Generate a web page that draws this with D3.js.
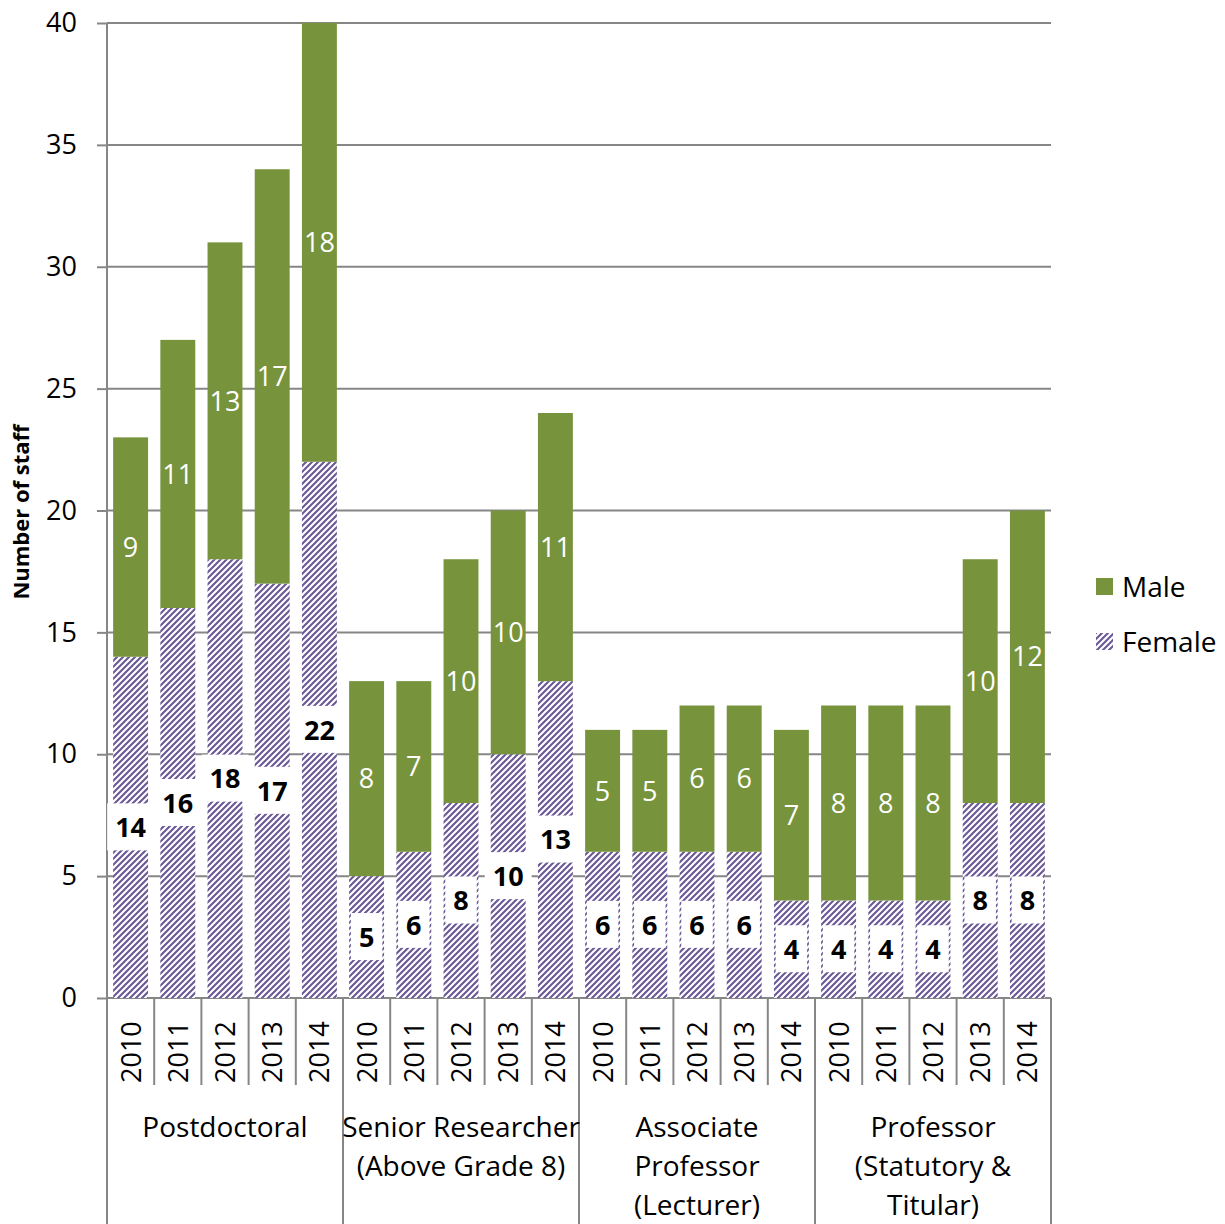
<!DOCTYPE html>
<html>
<head>
<meta charset="utf-8">
<script src="https://cdn.jsdelivr.net/npm/d3@7"></script>
<style>
  html, body { margin: 0; padding: 0; background: #fff; }
  svg { display: block; font-family: "Open Sans", "Noto Sans", sans-serif; }
</style>
</head>
<body>
<div id="chart"></div>
<script>
// Staff counts by role and year
const groups = [
  ["Postdoctoral"],
  ["Senior Researcher", "(Above Grade 8)"],
  ["Associate", "Professor", "(Lecturer)"],
  ["Professor", "(Statutory &", "Titular)"]
];
const years = ["2010", "2011", "2012", "2013", "2014"];
const female = [14, 16, 18, 17, 22,  5, 6, 8, 10, 13,  6, 6, 6, 6, 4,  4, 4, 4, 8, 8];
const male   = [ 9, 11, 13, 17, 18,  8, 7, 10, 10, 11,  5, 5, 6, 6, 7,  8, 8, 8, 10, 12];
const yTicks = [0, 5, 10, 15, 20, 25, 30, 35, 40];
const seriesNames = ["Male", "Female"];

const W = 1225, H = 1224;
const plot = { left: 107, right: 1051, top: 23, bottom: 998 };
const GREEN = "#77933c", PURPLE = "#6a5896", GRID = "#868686";
const FS = 27;       // numbers
const FS_TXT = 28;   // words

const rows = [];
groups.forEach((g, gi) => years.forEach((yr, yi) => {
  const i = gi * years.length + yi;
  rows.push({ key: gi + "-" + yr, year: yr, group: gi, female: female[i], male: male[i] });
}));

const svg = d3.select("#chart").append("svg").attr("width", W).attr("height", H);

// diagonal hatch for the female series
const defs = svg.append("defs");
const pat = defs.append("pattern").attr("id", "hatch")
  .attr("patternUnits", "userSpaceOnUse").attr("width", 6).attr("height", 6);
pat.append("rect").attr("width", 6).attr("height", 6).attr("fill", "#fff");
pat.append("path").attr("d", "M-1,1 l2,-2 M0,6 l6,-6 M5,7 l2,-2")
  .attr("stroke", PURPLE).attr("stroke-width", 2.1);

const x = d3.scaleBand().domain(rows.map(d => d.key))
  .range([plot.left, plot.right]).paddingInner(0.26).paddingOuter(0.13);
const y = d3.scaleLinear().domain([0, 40]).range([plot.bottom, plot.top]);

// gridlines + value axis
const yAxis = d3.axisLeft(y).tickValues(yTicks).tickSize(10).tickPadding(20).tickFormat(d3.format("d"));
const ya = svg.append("g").attr("transform", `translate(${plot.left},0)`).call(yAxis);
ya.select(".domain").remove();
ya.selectAll(".tick line").attr("stroke", GRID).attr("stroke-width", 2);
ya.selectAll(".tick text").attr("font-size", FS).attr("fill", "#000")
  .attr("font-family", "'Open Sans', sans-serif");
svg.append("g").selectAll("line").data(yTicks).join("line")
  .attr("x1", plot.left).attr("x2", plot.right)
  .attr("y1", d => y(d)).attr("y2", d => y(d))
  .attr("stroke", GRID).attr("stroke-width", 2);

// stacked bars
const bars = svg.append("g");
bars.selectAll(".f").data(rows).join("rect")
  .attr("x", d => x(d.key)).attr("width", x.bandwidth())
  .attr("y", d => y(d.female)).attr("height", d => y(0) - y(d.female))
  .attr("fill", "url(#hatch)");
bars.selectAll(".m").data(rows).join("rect")
  .attr("x", d => x(d.key)).attr("width", x.bandwidth())
  .attr("y", d => y(d.female + d.male)).attr("height", d => y(d.female) - y(d.female + d.male))
  .attr("fill", GREEN);

// vertical value axis line
svg.append("line").attr("x1", plot.left).attr("x2", plot.left)
  .attr("y1", plot.top).attr("y2", H).attr("stroke", GRID).attr("stroke-width", 2);

// category axis: year ticks and group separators
const step = x.step();
const edges = d3.range(rows.length + 1).map(i => plot.left + i * step);
svg.append("g").selectAll("line").data(edges).join("line")
  .attr("x1", d => d).attr("x2", d => d)
  .attr("y1", plot.bottom)
  .attr("y2", (d, i) => i % years.length === 0 ? H : 1085)
  .attr("stroke", GRID).attr("stroke-width", 2);

svg.append("g").selectAll("text").data(rows).join("text")
  .attr("transform", d => `translate(${x(d.key) + x.bandwidth() / 2 + 10},1083) rotate(-90)`)
  .attr("font-size", FS).attr("fill", "#000").text(d => d.year);

const groupText = svg.append("g").selectAll("text").data(groups).join("text")
  .attr("text-anchor", "middle").attr("font-size", FS_TXT).attr("fill", "#000")
  .attr("x", (g, gi) => plot.left + (gi * years.length + years.length / 2) * step);
groupText.selectAll("tspan").data(g => g).join("tspan")
  .attr("x", function () { return d3.select(this.parentNode).attr("x"); })
  .attr("y", (d, i) => 1137 + i * 39).text(d => d);

// male labels
svg.append("g").selectAll("text").data(rows).join("text")
  .attr("x", d => x(d.key) + x.bandwidth() / 2)
  .attr("y", d => y(d.female + d.male / 2)).attr("dy", "0.36em")
  .attr("text-anchor", "middle").attr("font-size", FS).attr("fill", "#fff")
  .text(d => d.male);

// female labels on white boxes
const fl = svg.append("g").selectAll("g").data(rows).join("g")
  .attr("transform", d => `translate(${x(d.key) + x.bandwidth() / 2},${y(d.female / 2)})`);
fl.append("rect").attr("fill", "#fff");
const flText = fl.append("text").attr("text-anchor", "middle").attr("dy", "0.36em")
  .attr("font-size", FS).attr("font-weight", "bold").attr("fill", "#000")
  .text(d => d.female);
flText.each(function () {
  const b = this.getBBox();
  d3.select(this.previousSibling)
    .attr("x", -b.width / 2 - 8).attr("width", b.width + 16)
    .attr("y", -24).attr("height", 47);
});

// value axis title
svg.append("text").attr("transform", "translate(29,512) rotate(-90)")
  .attr("text-anchor", "middle").attr("font-size", 22).attr("font-weight", "bold")
  .text("Number of staff");

// legend
const lg = svg.append("g").selectAll("g").data(seriesNames).join("g")
  .attr("transform", (d, i) => `translate(1096,${578 + i * 55})`);
lg.append("rect").attr("width", 17).attr("height", 17)
  .attr("fill", d => d === "Male" ? GREEN : "url(#hatch)");
lg.append("text").attr("x", 26).attr("y", 9).attr("dy", "0.36em")
  .attr("font-size", FS_TXT).text(d => d);
</script>
</body>
</html>
